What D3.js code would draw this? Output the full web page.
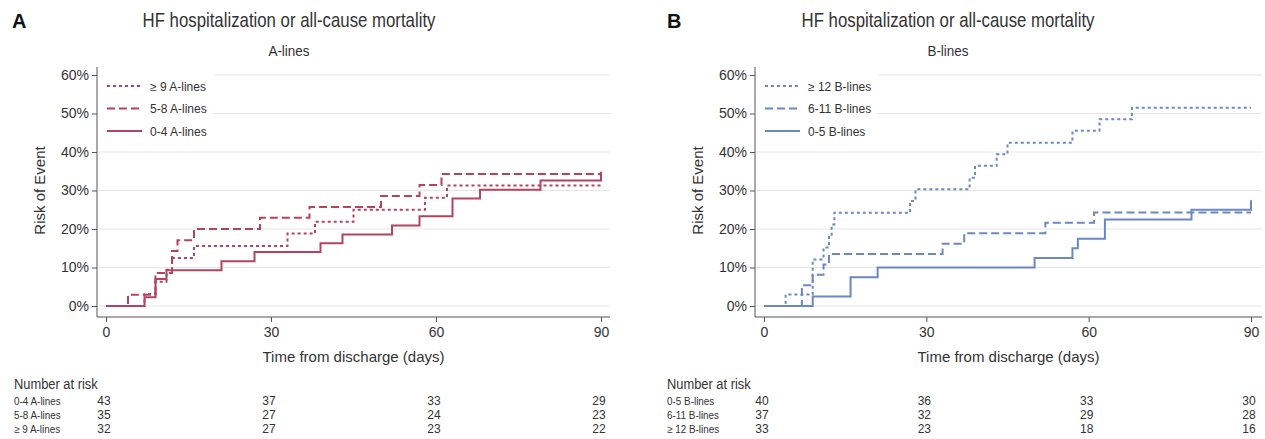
<!DOCTYPE html>
<html>
<head>
<meta charset="utf-8">
<script src="https://cdnjs.cloudflare.com/ajax/libs/d3/7.8.5/d3.min.js"></script>
<style>
  body { margin: 0; background: #fff; }
  text { font-family: "Liberation Sans", Arial, sans-serif; fill: #333; }
</style>
</head>
<body>
<script>
// time points [day, risk %]
var aLow  = [[0,0],[7,2.3],[9,7.0],[11,9.3],[21,11.6],[27,14.0],[39,16.3],[43,18.6],[52,20.9],[57,23.3],[63,27.9],[68,30.2],[79,32.6],[90,34.9]];
var aMid  = [[0,0],[4,2.9],[9,8.6],[12,14.3],[13,17.1],[16,20.0],[28,22.9],[37,25.7],[50,28.6],[57,31.4],[61,34.3],[90,34.3]];
var aHigh = [[0,0],[7,3.1],[9,6.3],[11,9.4],[12,12.5],[16,15.6],[33,18.8],[38,21.9],[45,25.0],[58,28.1],[62,31.3],[90,31.3]];

var bLow  = [[0,0],[9,2.5],[16,7.5],[21,10],[50,12.5],[57,15],[58,17.5],[63,22.5],[79,25],[90,27.5]];
var bMid  = [[0,0],[7,5.4],[9,8.1],[11,10.8],[12,13.5],[33,16.2],[37,18.9],[52,21.6],[61,24.3],[90,24.3]];
var bHigh = [[0,0],[4,3.0],[9,12.1],[11,15.2],[12,18.2],[12.5,21.2],[13,24.2],[27,27.3],[28,30.3],[38,33.3],[39,36.4],[43,39.4],[45,42.4],[57,45.5],[62,48.5],[68,51.5],[90,51.5]];

var legendA = ['\u2265 9 A-lines', '5-8 A-lines', '0-4 A-lines'];
var legendB = ['\u2265 12 B-lines', '6-11 B-lines', '0-5 B-lines'];

var riskLabelsA = ['0-4 A-lines', '5-8 A-lines', '\u2265 9 A-lines'];
var riskA = [[43,37,33,29],[35,27,24,23],[32,27,23,22]];
var riskLabelsB = ['0-5 B-lines', '6-11 B-lines', '\u2265 12 B-lines'];
var riskB = [[40,36,33,30],[37,32,29,28],[33,23,18,16]];

var xTicks = [0, 30, 60, 90];
var yTicks = [0, 10, 20, 30, 40, 50, 60];

var W = 1265, H = 439;

var svg = d3.select('body').append('svg')
  .attr('width', W)
  .attr('height', H)
  .style('display', 'block');

svg.append('rect').attr('width', W).attr('height', H).attr('fill', '#fff');

function label(g, x, y, str, size, anchor, sx) {
  return g.append('text')
    .attr('transform', `translate(${x},${y}) scale(${sx || 1},1)`)
    .attr('text-anchor', anchor || 'start')
    .style('font-size', size + 'px')
    .text(str);
}

var dashes = ['3,3', '8,4', null];

function drawPanel(p) {
  var g = svg.append('g');

  var x = d3.scaleLinear().domain([0, 90]).range([p.x0, p.x1]);
  var y = d3.scaleLinear().domain([0, 60]).range([306, 75]);

  // headings
  label(g, p.letterX, 28, p.letter, 20, 'start').style('font-weight', 'bold').style('fill', '#111');
  label(g, p.titleX, 27, 'HF hospitalization or all-cause mortality', 20, 'middle', 0.84);
  label(g, p.titleX, 56, p.sub, 15, 'middle', 0.9);

  // grid
  g.selectAll('.grid')
    .data(yTicks)
    .enter().append('line')
      .attr('x1', p.axisX + 1)
      .attr('x2', p.right)
      .attr('y1', d => y(d))
      .attr('y2', d => y(d))
      .style('stroke', '#e6e6e6')
      .style('stroke-width', 1);

  // legend background covers the grid
  g.append('rect')
    .attr('x', p.axisX + 1)
    .attr('y', 68)
    .attr('width', p.legendW)
    .attr('height', 74)
    .attr('fill', '#fff');

  var yAxis = d3.axisLeft(y)
    .tickValues(yTicks)
    .tickFormat(d => d + '%')
    .tickSize(5)
    .tickPadding(3);

  var gY = g.append('g')
    .attr('transform', `translate(${p.axisX},0)`)
    .call(yAxis);
  gY.select('.domain').remove();
  gY.selectAll('line').style('stroke', '#555');
  gY.selectAll('text').style('font-size', '14px').style('fill', '#333')
    .attr('font-family', null);

  var xAxis = d3.axisBottom(x)
    .tickValues(xTicks)
    .tickFormat(d3.format('d'))
    .tickSize(5)
    .tickPadding(5);

  var gX = g.append('g')
    .attr('transform', 'translate(0,317)')
    .call(xAxis);
  gX.select('.domain').remove();
  gX.selectAll('line').style('stroke', '#555');
  gX.selectAll('text').style('font-size', '14px').style('fill', '#333')
    .attr('font-family', null);

  g.append('line')
    .attr('x1', p.axisX).attr('x2', p.axisX)
    .attr('y1', 67).attr('y2', 317)
    .style('stroke', '#555');
  g.append('line')
    .attr('x1', p.axisX).attr('x2', p.right)
    .attr('y1', 317).attr('y2', 317)
    .style('stroke', '#555');

  label(g, (p.axisX + p.right) / 2, 362, 'Time from discharge (days)', 15, 'middle');
  label(g, 0, 0, 'Risk of Event', 15, 'middle')
    .attr('transform', `translate(${p.axisX - 52},${y(30)}) rotate(-90)`);

  // curves
  var line = d3.line()
    .x(d => x(d[0]))
    .y(d => y(d[1]))
    .curve(d3.curveStepAfter);

  p.series.forEach(function(s, i) {
    g.append('path')
      .datum(s)
      .attr('d', line)
      .style('fill', 'none')
      .style('stroke', p.color)
      .style('stroke-width', 2)
      .style('stroke-dasharray', dashes[i]);
  });

  // legend
  p.legend.forEach(function(name, i) {
    var ly = 86 + i * 22.5;
    g.append('line')
      .attr('x1', p.axisX + 10).attr('x2', p.axisX + 45)
      .attr('y1', ly).attr('y2', ly)
      .style('stroke', p.color)
      .style('stroke-width', 2)
      .style('stroke-dasharray', dashes[i]);
    label(g, p.axisX + 53, ly + 4.5, name, 12, 'start');
  });

  // number at risk table
  label(g, p.tableX, 389, 'Number at risk', 14, 'start', 0.92);
  p.riskLabels.forEach(function(name, i) {
    var ry = 405 + i * 14;
    label(g, p.tableX, ry, name, 11, 'start', 0.9);
    g.selectAll('.risk' + i)
      .data(p.risk[i])
      .enter().append('text')
        .attr('x', (d, j) => x(xTicks[j]) - 2)
        .attr('y', ry)
        .attr('text-anchor', 'middle')
        .style('font-size', '12px')
        .text(d => d);
  });
}

drawPanel({
  letter: 'A', letterX: 12, titleX: 289, sub: 'A-lines',
  axisX: 97, x0: 106, x1: 601, right: 610, legendW: 116, tableX: 14,
  color: '#b3445f',
  series: [aHigh, aMid, aLow],
  legend: legendA,
  riskLabels: riskLabelsA, risk: riskA
});

drawPanel({
  letter: 'B', letterX: 667, titleX: 948, sub: 'B-lines',
  axisX: 755, x0: 764, x1: 1251, right: 1262, legendW: 122, tableX: 667,
  color: '#6b88c1',
  series: [bHigh, bMid, bLow],
  legend: legendB,
  riskLabels: riskLabelsB, risk: riskB
});
</script>
</body>
</html>
